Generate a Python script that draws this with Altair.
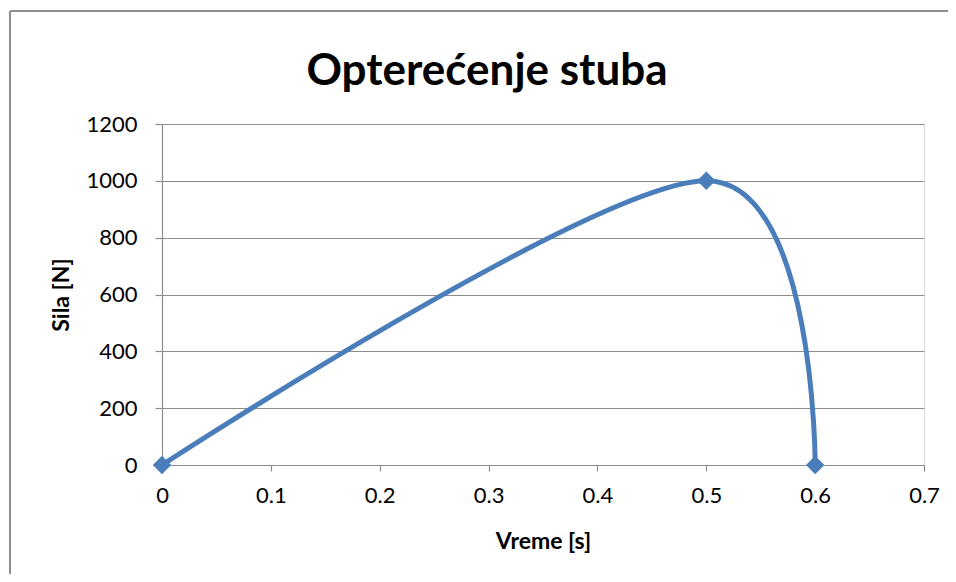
import altair as alt
import pandas as pd

vreme = [0, 0.5, 0.6]
sila = [0, 1000, 0]
x_ticks = [0, 0.1, 0.2, 0.3, 0.4, 0.5, 0.6, 0.7]
y_ticks = [0, 200, 400, 600, 800, 1000, 1200]
chart_title = ["Opterećenje stuba"]

df = pd.DataFrame({"Vreme": vreme, "Sila": sila})
tdf = pd.DataFrame({"t": chart_title})

FONT = "Lato"
GRID = "#8c8c8c"
BLUE = "#4a7ebb"

x_enc = alt.X(
    "Vreme:Q",
    scale=alt.Scale(domain=[0, 0.7], nice=False),
    axis=alt.Axis(
        title="Vreme [s]", values=x_ticks, format="~g", grid=False, labelFlush=False,
        domainColor=GRID, domainWidth=1.2, tickColor=GRID, tickSize=6, tickWidth=1.2,
        labelFont=FONT, labelFontSize=22, labelColor="#000", labelPadding=14,
        titleFont=FONT, titleFontSize=23, titleFontWeight="bold", titleColor="#000",
        titleX=381, titleY=76, titleBaseline="middle",
    ),
)
y_enc = alt.Y(
    "Sila:Q",
    scale=alt.Scale(domain=[0, 1200], nice=False),
    axis=alt.Axis(
        title="Sila [N]", values=y_ticks, format="d", grid=True, labelFlush=False,
        gridColor=GRID, gridWidth=1.2, gridOpacity=1,
        domainColor=GRID, domainWidth=1.2, tickColor=GRID, tickSize=7, tickWidth=1.2,
        labelFont=FONT, labelFontSize=22, labelColor="#000", labelPadding=18,
        titleFont=FONT, titleFontSize=23, titleFontWeight="bold", titleColor="#000",
        titleX=-101, titleY=170.5, titleBaseline="middle", titleAlign="center", titleAngle=-90,
    ),
)

line = alt.Chart(df).mark_line(
    interpolate="cardinal", color=BLUE, strokeWidth=5
).encode(x=x_enc, y=y_enc)

points = alt.Chart(df).mark_point(
    shape="diamond", filled=True, size=340, color=BLUE, opacity=1
).encode(x="Vreme:Q", y="Sila:Q")

border_top = alt.Chart(df).mark_rule(color=GRID, strokeWidth=1.5).encode(
    x=alt.value(-152), x2=alt.value(800), y=alt.value(-113)
)
border_left = alt.Chart(df).mark_rule(color=GRID, strokeWidth=1.5).encode(
    x=alt.value(-152), y=alt.value(-113), y2=alt.value(470)
)

title = alt.Chart(tdf).mark_text(
    font=FONT, fontSize=44, fontWeight="bold", color="#000",
    align="center", baseline="alphabetic",
).encode(text="t:N", x=alt.value(325), y=alt.value(-39))

chart = alt.layer(border_top, border_left, line, points, title).properties(
    width=762,
    height=341,
    autosize=alt.AutoSizeParams(type="none"),
    padding={"left": 154, "top": 116, "right": 24, "bottom": 109},
).configure_view(stroke=None).configure(background="white")

chart.save("out.html", embed_options={"renderer": "svg", "actions": False})
